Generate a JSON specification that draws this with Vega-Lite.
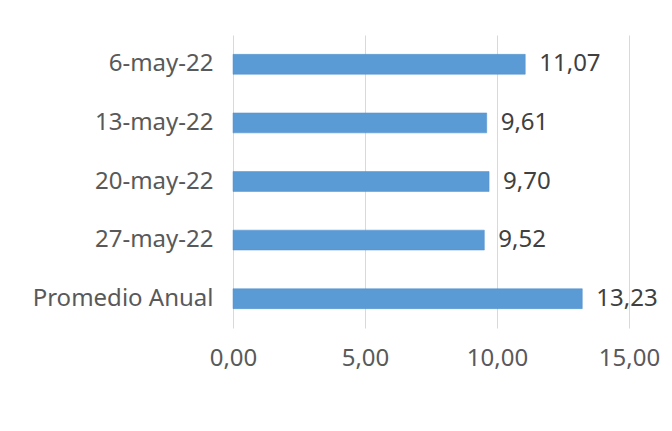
{
  "$schema": "https://vega.github.io/schema/vega-lite/v6.json",
  "width": 396,
  "height": 293,
  "autosize": {"type": "none"},
  "padding": {"left": 233, "top": 35, "right": 43, "bottom": 103},
  "background": "white",
  "config": {
    "locale": {"number": {"decimal": ",", "thousands": ".", "grouping": [3], "currency": ["", " €"]}},
    "view": {"stroke": null},
    "font": "Noto Sans"
  },
  "data": {
    "values": [
      {"fecha": "6-may-22", "valor": 11.07},
      {"fecha": "13-may-22", "valor": 9.61},
      {"fecha": "20-may-22", "valor": 9.70},
      {"fecha": "27-may-22", "valor": 9.52},
      {"fecha": "Promedio Anual", "valor": 13.23}
    ]
  },
  "encoding": {
    "y": {
      "field": "fecha", "type": "nominal", "sort": null, "title": null,
      "scale": {"paddingInner": 0.66, "paddingOuter": 0.33},
      "axis": {"domain": false, "ticks": false, "labelPadding": 20, "labelLimit": 400, "labelFontSize": 24, "labelColor": "#595959", "labelFont": "Noto Sans"}
    },
    "x": {
      "field": "valor", "type": "quantitative", "title": null,
      "scale": {"domain": [0, 15], "nice": false},
      "axis": {"values": [0, 5, 10, 15], "format": ".2f", "domain": false, "ticks": false, "grid": true, "gridColor": "#d9d9d9", "labelFlush": false, "labelOverlap": false, "labelAlign": "center", "labelPadding": 18, "labelFontSize": 24, "labelColor": "#595959", "labelFont": "Noto Sans"}
    }
  },
  "layer": [
    {"mark": {"type": "bar", "color": "#5b9bd5", "stroke": "#4f8fcc", "strokeWidth": 0.5}},
    {
      "mark": {"type": "text", "align": "left", "baseline": "middle", "dx": 14, "fontSize": 24, "color": "#404040", "font": "Noto Sans"},
      "encoding": {"text": {"field": "valor", "type": "quantitative", "format": ".2f"}}
    }
  ]
}
